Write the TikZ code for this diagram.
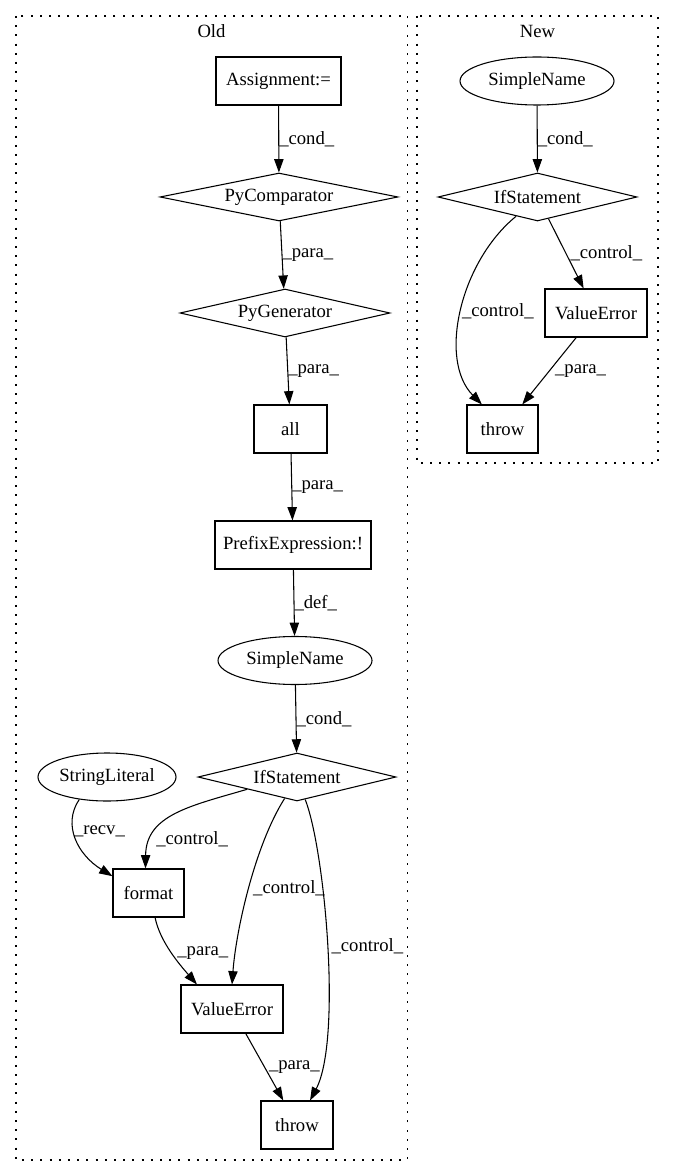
\documentclass[tikz,border=0pt]{standalone}
\usepackage{fontspec}
\setmainfont{Liberation Serif}
\usetikzlibrary{arrows.meta}
\usetikzlibrary{shapes.geometric}

\begin{document}
\begin{tikzpicture}[x=0.75pt,y=-0.75pt,>={Triangle[length=10pt,width=7pt]},
  every node/.style={font=\fontsize{14}{16}\selectfont},
  rbox/.style={draw,rectangle,line width=0.8pt,minimum height=36pt,inner sep=0pt},
  stmt/.style={draw,diamond,aspect=5,line width=0.8pt,minimum height=36pt,inner sep=0pt},
  ent/.style={draw,ellipse,line width=0.8pt,minimum height=36pt,inner sep=0pt},
  cluster/.style={line width=0.9pt,dash pattern=on 1.5pt off 5.4pt},
  elabel/.style={inner sep=0pt,anchor=west},
  edge/.style={->,line width=0.8pt}]
\useasboundingbox (0,0) rectangle (673,1176);
\draw [cluster] (16,16) rectangle (407.5,1160);
\node (oldlbl) at (211.5,31) {Old};
\draw [cluster] (417,16) rectangle (658,463);
\node (newlbl) at (537.5,31) {New};
\node [rbox,minimum width=93.75pt] (assign) at (278.5,81) {Assignment:=};
\node [stmt,minimum width=178.5pt] (pycomp) at (279,197) {PyComparator};
\node [stmt,minimum width=157.5pt] (pygen) at (285,313) {PyGenerator};
\node [rbox,minimum width=54.75pt] (all) at (290.5,429) {all};
\node [rbox,minimum width=117pt] (prefix) at (293,545) {PrefixExpression:!};
\node [ent,minimum width=115.5pt] (sname) at (295,660.5) {SimpleName};
\node [stmt,minimum width=148.5pt] (ifst) at (297,777) {IfStatement};
\node [ent,minimum width=103.5pt] (strlit) at (107,777) {StringLiteral};
\node [rbox,minimum width=53.25pt] (fmt) at (148.5,893) {format};
\node [rbox,minimum width=76.5pt] (verr) at (232,1009) {ValueError};
\node [rbox,minimum width=54pt] (thr) at (297,1125) {throw};
\node [ent,minimum width=115.5pt] (nsname) at (537,81) {SimpleName};
\node [stmt,minimum width=149.25pt] (nifst) at (537.5,197) {IfStatement};
\node [rbox,minimum width=76.5pt] (nverr) at (596,313) {ValueError};
\node [rbox,minimum width=53.25pt] (nthr) at (502.5,429) {throw};
\draw [edge] (assign) -- node[elabel,midway] {\_cond\_} (pycomp);
\draw [edge] (pycomp) -- node[elabel,midway] {\_para\_} (pygen);
\draw [edge] (pygen) -- node[elabel,midway] {\_para\_} (all);
\draw [edge] (all) -- node[elabel,midway] {\_para\_} (prefix);
\draw [edge] (prefix) -- node[elabel,midway] {\_def\_} (sname);
\draw [edge] (sname) -- node[elabel,midway] {\_cond\_} (ifst);
\draw [edge] (strlit.219) .. controls (62,825) and (78,855) .. node[elabel,pos=0.4] {\_recv\_} (fmt.155);
\draw [edge] (ifst.south west) .. controls (190,806) and (146,815) .. node[elabel,pos=0.78,xshift=3pt] {\_control\_} (fmt.97);
\draw [edge] (ifst.240) .. controls (255,845) and (236,930) .. node[elabel,pos=0.5,xshift=3pt] {\_control\_} (verr.north);
\draw [edge] (ifst.290) .. controls (325,850) and (342,1040) .. node[elabel,pos=0.5,xshift=3pt] {\_control\_} (thr.62);
\draw [edge] (fmt.285) .. controls (160,942) and (180,965) .. node[elabel,pos=0.5,xshift=4pt] {\_para\_} (verr.145);
\draw [edge] (verr) -- node[elabel,midway,xshift=3pt] {\_para\_} (thr);
\draw [edge] (nsname) -- node[elabel,midway] {\_cond\_} (nifst);
\draw [edge] (nifst) -- node[elabel,midway,xshift=3pt] {\_control\_} (nverr);
\draw [edge] (nverr) -- node[elabel,midway,xshift=4pt] {\_para\_} (nthr);
\draw [edge] (nifst.222) .. controls (460,262) and (438,360) .. node[elabel,pos=0.5] {\_control\_} (nthr.130);
\end{tikzpicture}
\end{document}
